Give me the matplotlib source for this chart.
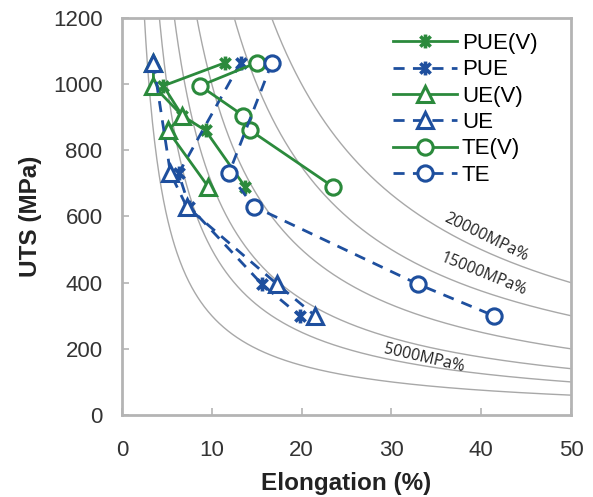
import matplotlib
matplotlib.use("Agg")
import matplotlib.pyplot as plt
import numpy as np
from matplotlib.path import Path

plt.rcParams['font.family'] = ['Liberation Sans', 'DejaVu Sans']

# iso elongation*UTS curves (MPa%)
iso_levels = [3000, 5000, 7000, 10000, 15000, 20000]
iso_labels = {5000: (33.6, 172, -13), 15000: (40.3, 425, -22), 20000: (40.5, 537, -26)}

# blue series (as received)
uts = [1065, 730, 630, 395, 300]
pue = [13.2, 6.3, 7.5, 15.6, 19.8]
ue = [3.5, 5.4, 7.2, 17.3, 21.5]
te = [16.7, 11.9, 14.7, 33.0, 41.4]

# green series (V)
uts_v = [1065, 995, 905, 860, 690]
pue_v = [11.5, 4.6, 6.7, 9.3, 13.7]
ue_v = [3.5, 3.5, 6.7, 5.1, 9.6]
te_v = [15.0, 8.7, 13.5, 14.3, 23.5]

green = '#2b8a3c'
blue = '#1e4f9e'
gray = '#b4b4b4'

star = Path([(-1, -1), (1, 1), (-1, 1), (1, -1), (0, -1.35), (0, 1.35)],
            [Path.MOVETO, Path.LINETO, Path.MOVETO, Path.LINETO, Path.MOVETO, Path.LINETO])

fig = plt.figure(figsize=(5.93, 4.97), dpi=100)
ax = fig.add_axes([122/593, 1-415/497, (571-122)/593, (415-18)/497])

xs = np.linspace(0.5, 50, 600)
for c in iso_levels:
    ax.plot(xs, c / xs, color='#a8a8a8', lw=1.0, zorder=1)
for c, (lx, ly, rot) in iso_labels.items():
    ax.text(lx, ly, f"{c}MPa%", rotation=rot, ha='center', va='center',
            fontsize=11.5, family=['Open Sans', 'DejaVu Sans'], color='#222222', zorder=2)

dash = (4, 3)
kw = dict(lw=2, ms=11, mew=2.2, mfc='white')
skw = dict(lw=2, ms=10, mew=2.6)
ax.plot(pue_v, uts_v, color=green, marker=star, label='PUE(V)', zorder=3, **skw)
ax.plot(pue, uts, color=blue, marker=star, dashes=dash, label='PUE', zorder=3, **skw)
ax.plot(ue_v, uts_v, color=green, marker='^', label='UE(V)', zorder=4, **kw)
ax.plot(ue, uts, color=blue, marker='^', dashes=dash, label='UE', zorder=4, **kw)
ax.plot(te_v, uts_v, color=green, marker='o', label='TE(V)', zorder=5, **kw)
ax.plot(te, uts, color=blue, marker='o', dashes=dash, label='TE', zorder=5, **kw)

ax.set_xlim(0, 50)
ax.set_ylim(0, 1200)
ax.set_xticks([0, 10, 20, 30, 40, 50])
ax.set_yticks([0, 200, 400, 600, 800, 1000, 1200])
ax.tick_params(direction='in', length=5, width=1.2, color=gray, labelsize=16,
               labelcolor='#333333')
ax.tick_params(axis='y', pad=14)
ax.tick_params(axis='x', pad=18)
for s in ax.spines.values():
    s.set_color(gray)
    s.set_linewidth(2)

ax.set_xlabel('Elongation (%)', fontsize=17.5, fontweight='bold', color='#222222', labelpad=8)
ax.set_ylabel('UTS (MPa)', fontsize=17.5, fontweight='bold', color='#222222', labelpad=8)

fig.legend(loc='upper left', bbox_to_anchor=(393/593, 1-33/497), frameon=False,
           fontsize=16, handlelength=2.9, handletextpad=0.2, labelspacing=0.24,
           borderpad=0, borderaxespad=0)

fig.savefig('out.png', dpi=100)
